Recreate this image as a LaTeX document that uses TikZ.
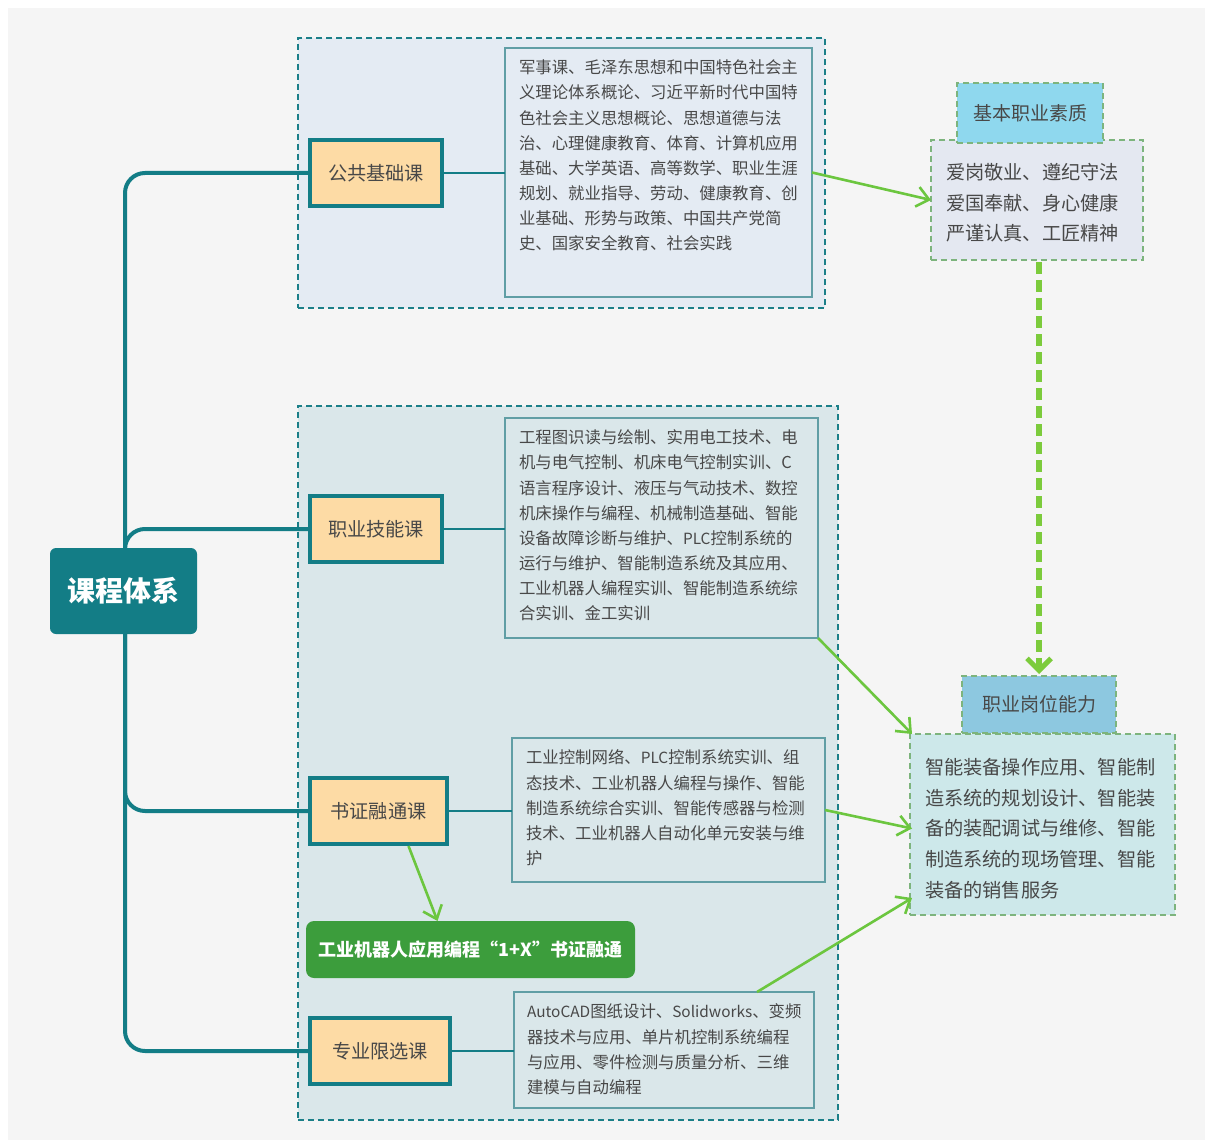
\documentclass[tikz,border=0pt]{standalone}
\usepackage{fontspec}
\setmainfont{Noto Sans CJK SC}
\usetikzlibrary{fit,arrows.meta,calc}
\definecolor{bgc}{RGB}{245,245,245}
\definecolor{teal1}{RGB}{19,125,134}
\definecolor{grpline}{RGB}{27,127,136}
\definecolor{g1fill}{RGB}{228,235,243}
\definecolor{g2fill}{RGB}{218,231,234}
\definecolor{detline}{RGB}{96,158,165}
\definecolor{peach}{RGB}{253,219,165}
\definecolor{garrow}{RGB}{108,198,63}
\definecolor{gbox}{RGB}{60,157,60}
\definecolor{h1fill}{RGB}{143,216,238}
\definecolor{h2fill}{RGB}{141,200,224}
\definecolor{r1fill}{RGB}{228,232,241}
\definecolor{r2fill}{RGB}{205,232,234}
\definecolor{rline}{RGB}{125,180,125}
\definecolor{txt}{RGB}{72,72,72}
\definecolor{dgreen}{RGB}{124,203,60}
\newcommand{\lat}[1]{{\fontsize{7.7}{12.55}\selectfont #1}}
\begin{document}
\begin{tikzpicture}[x=0.5pt,y=-0.5pt,
  every node/.style={inner sep=0pt,outer sep=0pt},
  every label/.style={inner sep=0pt,outer sep=0pt},
  grp/.style={draw=grpline,line width=1.2pt,dash pattern=on 3pt off 2pt},
  det/.style={draw=detline,line width=0.9pt},
  dtext/.style={anchor=north west,align=left,text=txt,font=\fontsize{8.2}{12.55}\selectfont},
  cat/.style={draw=teal1,line width=2pt,fill=peach},
  cattext/.style={text=txt,font=\fontsize{9.6}{11}\selectfont},
  trunk/.style={draw=teal1,line width=2pt,rounded corners=10pt},
  thin/.style={draw=teal1,line width=0.6pt},
  garr/.style={draw=garrow,line width=1.3pt,-{Straight Barb[length=6pt,width=10pt,line width=1.3pt]}},
  rbox/.style={draw=rline,line width=0.8pt,dash pattern=on 3pt off 2pt},
  rtext/.style={anchor=north west,align=left,text=txt,font=\fontsize{9.6}{15.4}\selectfont},
  head/.style={draw=rline,line width=0.8pt,dash pattern=on 3pt off 2pt},
  headtext/.style={text=txt,font=\fontsize{9.5}{11}\selectfont}
]
\useasboundingbox (0,0) rectangle (1208,1144);
\fill[white] (0,0) rectangle (1208,1144);
\fill[bgc] (8,8) rectangle (1205,1140);

% groups
\node[grp,fill=g1fill,fit={(298,38) (825,308)}] (G1) {};
\node[grp,fill=g2fill,fit={(298,406) (838,1120)}] (G2) {};

% detail boxes
\node[det,fill=g1fill,fit={(505,48) (812,297)}] (d1) {};
\node[dtext] (t1) at (519,60) {军事课、毛泽东思想和中国特色社会主\\义理论体系概论、习近平新时代中国特\\色社会主义思想概论、思想道德与法\\治、心理健康教育、体育、计算机应用\\基础、大学英语、高等数学、职业生涯\\规划、就业指导、劳动、健康教育、创\\业基础、形势与政策、中国共产党简\\史、国家安全教育、社会实践};

\node[det,fill=g2fill,fit={(505,418) (818,638)}] (d2) {};
\node[dtext] (t2) at (519,430) {工程图识读与绘制、实用电工技术、电\\机与电气控制、机床电气控制实训、C\\语言程序设计、液压与气动技术、数控\\机床操作与编程、机械制造基础、智能\\设备故障诊断与维护、\lat{PLC}控制系统的\\运行与维护、智能制造系统及其应用、\\工业机器人编程实训、智能制造系统综\\合实训、金工实训};

\node[det,fill=g2fill,fit={(512,738) (825,882)}] (d3) {};
\node[dtext] (t3) at (526,750) {工业控制网络、\lat{PLC}控制系统实训、组\\态技术、工业机器人编程与操作、智能\\制造系统综合实训、智能传感器与检测\\技术、工业机器人自动化单元安装与维\\护};

\node[det,fill=g2fill,fit={(514,992) (814,1108)}] (d4) {};
\node[dtext] (t4) at (527,1004) {\lat{AutoCAD}图纸设计、\lat{Solidworks}、变频\\器技术与应用、单片机控制系统编程\\与应用、零件检测与质量分析、三维\\建模与自动编程};

% root
\node[fill=teal1,rounded corners=3pt,fit={(50,548) (197,634)},
  label={[text=white,font=\fontsize{14}{16}\selectfont\bfseries]center:课程体系}] (root) {};

% category boxes
\node[cat,fit={(310,140) (442,206)},label={[cattext]center:公共基础课}] (b1) {};
\node[cat,fit={(310,496) (442,562)},label={[cattext]center:职业技能课}] (b2) {};
\node[cat,fit={(310,778) (447,844)},label={[cattext]center:书证融通课}] (b3) {};
\node[cat,fit={(310,1018) (450,1084)},label={[cattext]center:专业限选课}] (b4) {};

% trunk
\draw[trunk] ($(root.north)+(1.5,0)$) |- (b1.west);
\draw[trunk] ($(root.north)+(1.5,0)$) |- (b2.west);
\draw[trunk] ($(root.south)+(1.5,0)$) |- (b3.west);
\draw[trunk] ($(root.south)+(1.5,0)$) |- (b4.west);

% thin connectors
\draw[thin] (b1.east) -- (b1.east -| d1.west);
\draw[thin] (b2.east) -- (b2.east -| d2.west);
\draw[thin] (b3.east) -- (b3.east -| d3.west);
\draw[thin] (b4.east) -- (b4.east -| d4.west);

% green box
\node[fill=gbox,rounded corners=4pt,fit={(306,921) (635,978)},
  label={[text=white,font=\fontsize{9}{11}\selectfont\bfseries]center:工业机器人应用编程“1+X”书证融通}] (gx) {};

% right side
\node[rbox,fill=r1fill,fit={(931,140) (1143,260)}] (qb) {};
\node[head,fill=h1fill,fit={(957,83) (1103,143)},label={[headtext]center:基本职业素质}] (qh) {};
\node[rtext] (qt) at (946,163) {爱岗敬业、遵纪守法\\爱国奉献、身心健康\\严谨认真、工匠精神};

\node[rbox,fill=r2fill,fit={(910,734) (1175,915)}] (jb) {};
\node[head,fill=h2fill,fit={(962,676) (1116,733)},label={[headtext]center:职业岗位能力}] (jh) {};
\node[rtext] (jt) at (925,758) {智能装备操作应用、智能制\\造系统的规划设计、智能装\\备的装配调试与维修、智能\\制造系统的现场管理、智能\\装备的销售服务};

% arrows
\draw[garr] (d1.east) -- (qb.west);
\draw[garr] (d2.south east) -- ($(jb.north west)+(2,0)$);
\draw[garr] (d3.east) -- ($(jb.west)+(2,4)$);
\draw[garr] ($(d4.north east)+(-57,0)$) -- ($(jb.south west)+(2,-17)$);
\draw[garr] ($(b3.south)+(30,2)$) -- ($(gx.north)+(-33,0)$);
\draw[draw=dgreen,line width=3pt,dash pattern=on 6pt off 3pt,-{Straight Barb[length=6pt,width=12pt,line width=2.5pt]}] ($(qb.south)+(2,2)$) -- ($(jh.north)+(0,-2)$);
\end{tikzpicture}
\end{document}
